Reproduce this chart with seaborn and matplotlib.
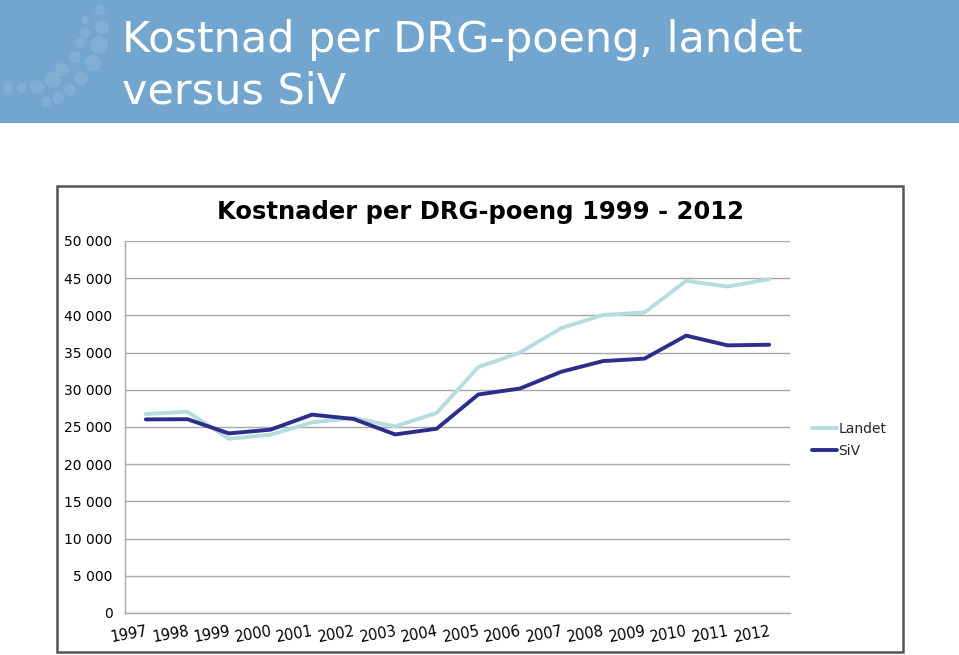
import numpy as np
import pandas as pd
import matplotlib
matplotlib.use("Agg")
import matplotlib.pyplot as plt
from matplotlib.patches import Rectangle, Circle
import seaborn as sns

# DATA
years = [str(y) for y in range(1997, 2013)]
landet = [26750, 27050, 23420, 23960, 25620, 26210, 25080, 26900,
          33050, 35000, 38300, 40050, 40400, 44640, 43880, 44870]
siv = [26020, 26050, 24140, 24640, 26660, 26080, 24000, 24770,
       29370, 30170, 32430, 33860, 34190, 37280, 35970, 36060]
series_names = ["Landet", "SiV"]
y_ticks = list(range(0, 50001, 5000))

df = pd.DataFrame({
    "År": years * 2,
    "Kostnad": landet + siv,
    "Serie": [series_names[0]] * len(years) + [series_names[1]] * len(years),
})

sns.set_style("white")
plt.rcParams['font.family'] = ['DejaVu Sans']

W, H = 959, 655
fig = plt.figure(figsize=(W / 100, H / 100), dpi=100)

# header band
fig.patches.append(Rectangle((0, 1 - 123 / H), 1, 123 / H, transform=fig.transFigure,
                             facecolor='#72A6CF', edgecolor='none', zorder=0))
# decorative dots in header
dots = [(100, 10, 5), (102, 27, 7), (85, 20, 4), (85, 33, 5), (99, 45, 9), (80, 43, 5),
        (93, 63, 8), (75, 57, 6), (62, 70, 7), (81, 78, 7), (53, 80, 8), (70, 90, 6),
        (37, 87, 7), (22, 88, 5), (8, 88, 5), (58, 98, 6), (46, 102, 5)]
for cx, cy, r in dots:
    fig.patches.append(Circle((cx, H - cy), r, transform=None, facecolor='white',
                              alpha=0.10, edgecolor='none', zorder=1))
fig.text(122 / W, 1 - 40 / H, "Kostnad per DRG-poeng, landet", color='white',
         fontsize=31, va='center', ha='left')
fig.text(122 / W, 1 - 91 / H, "versus SiV", color='white',
         fontsize=31, va='center', ha='left')

# chart box
fig.patches.append(Rectangle((57 / W, 1 - 652 / H), (903 - 57) / W, (652 - 186) / H,
                             transform=fig.transFigure, facecolor='white',
                             edgecolor='#555555', linewidth=1.8, zorder=1))

ax = fig.add_axes([125 / W, 1 - 613 / H, (790 - 125) / W, (613 - 241) / H])
ax.set_zorder(2)
ax.patch.set_alpha(0)

sns.lineplot(data=df, x="År", y="Kostnad", hue="Serie",
             palette={"Landet": "#B5DCE0", "SiV": "#2D2E8C"},
             linewidth=2.8, ax=ax, sort=False)

ax.set_xlim(-0.5, len(years) - 0.5)
ax.set_ylim(0, 50000)
ax.set_yticks(y_ticks)
ax.set_yticklabels([f"{v:,}".replace(",", " ") for v in y_ticks], fontsize=10)
ax.yaxis.grid(True, color='#A8A8A8', linewidth=1.0)
ax.set_xticks(range(len(years)))
ax.set_xticklabels(years, rotation=10, fontsize=10.5, ha='right', rotation_mode='anchor')
ax.tick_params(axis='both', length=0, colors='black')
ax.tick_params(axis='x', pad=8)
ax.tick_params(axis='y', pad=9)
for s in ['top', 'right']:
    ax.spines[s].set_visible(False)
for s in ['left', 'bottom']:
    ax.spines[s].set_color('#A8A8A8')
    ax.spines[s].set_linewidth(1.0)
ax.set_xlabel("")
ax.set_ylabel("")

fig.text(480 / W, 1 - 212 / H, "Kostnader per DRG-poeng 1999 - 2012", color='black',
         fontsize=17.5, fontweight='bold', ha='center', va='center', zorder=3)

ax.legend(title=None, frameon=False, loc='center left',
          bbox_to_anchor=(799 / W, 1 - 440 / H), bbox_transform=fig.transFigure,
          fontsize=10, handlelength=1.8, handletextpad=0.15, labelspacing=0.6)

fig.savefig("out.png", dpi=100)
